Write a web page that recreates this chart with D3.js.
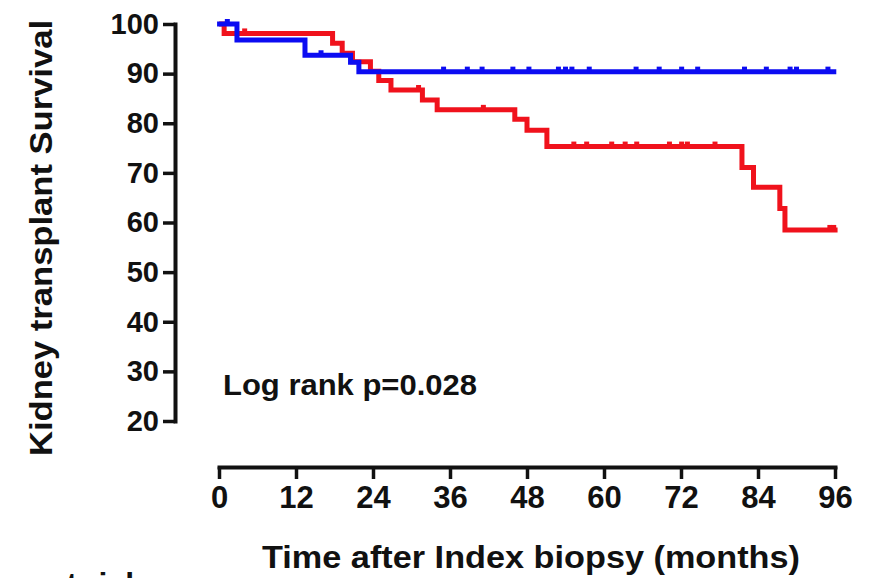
<!DOCTYPE html>
<html>
<head>
<meta charset="utf-8">
<script src="https://cdn.jsdelivr.net/npm/d3@7"></script>
<style>
  body { margin: 0; background: #fff; }
  text { font-family: "Liberation Sans", Arial, Helvetica, sans-serif; font-weight: bold; fill: #111; }
</style>
</head>
<body>
<div id="km-chart"></div>
<script>
// red group: event times (months) and survival (%) after each step
var redTimes = [0, 0.8, 17.7, 19.2, 20.8, 23.6, 24.9, 26.8, 31.7, 34, 46.1, 48, 51.1, 81.5, 83.3, 87.4, 88.2, 96.4];
var redSurv  = [100, 98.1, 96.1, 94.1, 92.4, 90.5, 88.6, 86.7, 84.7, 82.7, 80.8, 78.6, 75.3, 71.1, 67.1, 62.8, 58.5, 58.5];
var redCensored = [4, 31.1, 41.2, 55.3, 57.3, 61.2, 63.3, 65.1, 70.2, 72.1, 73, 77.3, 95.2, 95.8];

// blue group
var blueTimes = [-0.3, 2.8, 13.4, 20.5, 21.8, 96.2];
var blueSurv  = [100, 96.8, 93.7, 92.3, 90.4, 90.4];
var blueCensored = [1.3, 15.9, 35, 38.7, 41, 45.8, 48.3, 52.9, 54, 55, 57.7, 65, 68.6, 72.1, 74.6, 81.9, 85.3, 89, 90, 94.9];

var xTicks = [0, 12, 24, 36, 48, 60, 72, 84, 96];
var yTicks = [20, 30, 40, 50, 60, 70, 80, 90, 100];

(function() {
  var width = 875,
      height = 578;

  var svg = d3.select("#km-chart")
    .append("svg")
    .attr("width", width)
    .attr("height", height);

  var x = d3.scaleLinear().domain([0, 96]).range([219, 835]);
  var y = d3.scaleLinear().domain([20, 100]).range([421, 24]);

  //y axis, sits a bit left of the curves
  var yAxis = svg.append("g")
    .attr("transform", "translate(175,0)")
    .call(d3.axisLeft(y).tickValues(yTicks).tickSize(12).tickSizeOuter(0).tickPadding(4));

  //x axis, detached below the plot
  var xAxis = svg.append("g")
    .attr("transform", "translate(0,467)")
    .call(d3.axisBottom(x).tickValues(xTicks).tickSize(12).tickSizeOuter(0).tickPadding(7));

  [yAxis, xAxis].forEach(function(g) {
    g.select(".domain").attr("stroke", "#111").attr("stroke-width", 4).attr("stroke-linecap", "square");
    g.selectAll(".tick line").attr("stroke", "#111").attr("stroke-width", 3.5);
    g.selectAll("text").attr("fill", "#111").style("font-family", "'Liberation Sans', Arial, sans-serif").style("font-weight", "bold");
  });
  yAxis.selectAll("text").style("font-size", "29px");
  xAxis.selectAll("text").style("font-size", "31px");

  //step line for each group
  var line = d3.line()
    .x(function(d) { return x(d[0]); })
    .y(function(d) { return y(d[1]); })
    .curve(d3.curveStepAfter);

  function survAt(times, surv, t) {
    var i = d3.bisectRight(times, t) - 1;
    return surv[Math.max(0, i)];
  }

  function drawGroup(times, surv, censored, color) {
    var pts = times.map(function(t, i) { return [t, surv[i]]; });
    svg.append("path")
      .datum(pts)
      .attr("fill", "none")
      .attr("stroke", color)
      .attr("stroke-width", 5)
      .attr("d", line);

    //censor marks: small bumps on top of the line
    svg.selectAll(null)
      .data(censored)
      .enter().append("line")
      .attr("x1", function(d) { return x(d); })
      .attr("x2", function(d) { return x(d); })
      .attr("y1", function(d) { return y(survAt(times, surv, d)); })
      .attr("y2", function(d) { return y(survAt(times, surv, d)) - 5; })
      .attr("stroke", color)
      .attr("stroke-width", 5);
  }

  drawGroup(redTimes, redSurv, redCensored, "#f0121c");
  drawGroup(blueTimes, blueSurv, blueCensored, "#0c0cf2");

  svg.append("text")
    .attr("x", 223)
    .attr("y", 395)
    .attr("textLength", 254)
    .attr("lengthAdjust", "spacingAndGlyphs")
    .style("font-size", "30px")
    .text("Log rank p=0.028");

  svg.append("text")
    .attr("x", 531)
    .attr("y", 568)
    .attr("text-anchor", "middle")
    .attr("textLength", 538)
    .attr("lengthAdjust", "spacingAndGlyphs")
    .style("font-size", "32px")
    .text("Time after Index biopsy (months)");

  svg.append("text")
    .attr("transform", "translate(52,238) rotate(-90)")
    .attr("text-anchor", "middle")
    .attr("textLength", 436)
    .attr("lengthAdjust", "spacingAndGlyphs")
    .style("font-size", "32px")
    .text("Kidney transplant Survival");

  //table heading cut off at the bottom edge, as in the source figure
  svg.append("text")
    .attr("x", 143)
    .attr("y", 595)
    .attr("text-anchor", "end")
    .style("font-size", "32px")
    .text("Number at risk");
})();
</script>
</body>
</html>
